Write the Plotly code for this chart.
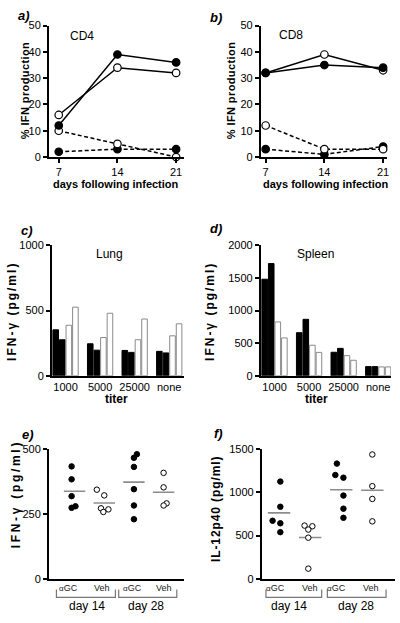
import numpy as np
import plotly.graph_objects as go

W, H = 400, 623

# ---------------- data ----------------
days = [7, 14, 21]
cd4_solid_filled = [12, 39, 36]
cd4_solid_open = [16, 34, 32]
cd4_dash_open = [10, 5, 0]
cd4_dash_filled = [2, 3, 3]
cd8_solid_filled = [32, 35, 34]
cd8_solid_open = [32, 39, 33]
cd8_dash_open = [12, 3, 3]
cd8_dash_filled = [3, 1, 4]

titers = ["1000", "5000", "25000", "none"]
lung_black1 = [352, 245, 194, 187]
lung_black2 = [276, 196, 179, 175]
lung_white1 = [387, 293, 276, 306]
lung_white2 = [526, 479, 435, 398]
spleen_black1 = [1480, 660, 360, 140]
spleen_black2 = [1720, 865, 420, 140]
spleen_white1 = [825, 468, 308, 135]
spleen_white2 = [580, 358, 237, 135]

groups = ["αGC", "Veh", "αGC", "Veh"]
days_groups = ["day 14", "day 28"]
e_vals = [
    [434, 384, 319, 280, 274],
    [344, 322, 272, 268, 258],
    [481, 467, 432, 346, 283, 230],
    [409, 353, 291, 283],
]
e_jitter = [
    [-0.1, -0.1, -0.1, 0.03, -0.1],
    [-0.25, 0.0, -0.11, 0.14, -0.03],
    [0.1, 0.0, 0.0, 0.0, 0.0, 0.0],
    [0.0, 0.0, 0.1, 0.0],
]
f_vals = [
    [1126, 834, 672, 643, 540],
    [616, 608, 570, 476, 117],
    [1334, 1202, 1171, 964, 812, 706],
    [1440, 1073, 925, 665],
]
f_jitter = [
    [0.04, 0.04, -0.21, 0.04, 0.04],
    [-0.18, 0.07, -0.06, -0.06, -0.06],
    [-0.14, -0.19, 0.07, 0.07, 0.07, 0.07],
    [0.0, 0.0, 0.0, 0.0],
]
filled_group = [True, False, True, False]

FONT = "Arial, Liberation Sans, sans-serif"


def px(x):
    return x / W


def py(y):
    return 1 - y / H


fig = go.Figure()

axis_common = dict(
    showline=True, linecolor="black", linewidth=1.5, showgrid=False,
    zeroline=False, ticks="outside", ticklen=4, tickwidth=1.5,
    tickcolor="black", tickfont=dict(family=FONT, size=11, color="black"),
)

# domains (pixel boxes)
boxes = {
    1: (49, 185, 20, 154),
    2: (262, 389, 20, 154),
    3: (52, 185, 244, 377),
    4: (262, 393, 244, 377),
    5: (49, 185, 452, 584),
    6: (263, 397, 452, 584),
}

layout = dict(
    width=W, height=H, margin=dict(l=0, r=0, t=0, b=0),
    paper_bgcolor="white", plot_bgcolor="white", showlegend=False,
    barmode="group", bargap=0.24, bargroupgap=0.15,
    font=dict(family=FONT, color="black"),
)
for i, (x0, x1, y0, y1) in boxes.items():
    xa = "xaxis" if i == 1 else f"xaxis{i}"
    ya = "yaxis" if i == 1 else f"yaxis{i}"
    layout[xa] = dict(axis_common, domain=[px(x0), px(x1)],
                      anchor="y" if i == 1 else f"y{i}")
    layout[ya] = dict(axis_common, domain=[py(y1), py(y0)],
                      anchor="x" if i == 1 else f"x{i}")

# ---- panels a, b ----
layout["xaxis"].update(range=[5.81, 21.95], tickvals=days)
layout["yaxis"].update(range=[0, 50], tickvals=[0, 10, 20, 30, 40, 50])
layout["xaxis2"].update(range=[6.41, 21.47], tickvals=days)
layout["yaxis2"].update(range=[0, 50], tickvals=[0, 10, 20, 30, 40, 50])


def line_trace(y, filled, dash, xa, ya):
    return go.Scatter(
        x=days, y=y, mode="lines+markers", xaxis=xa, yaxis=ya,
        line=dict(color="black", width=1.5, dash="4px,2.5px" if dash else "solid"),
        marker=dict(size=7.5, symbol="circle",
                    color="black" if filled else "white",
                    line=dict(color="black", width=1.2)),
        cliponaxis=False,
    )


for xa, ya, sets in [
    ("x", "y", [(cd4_dash_filled, True, True), (cd4_dash_open, False, True),
                (cd4_solid_open, False, False), (cd4_solid_filled, True, False)]),
    ("x2", "y2", [(cd8_dash_filled, True, True), (cd8_dash_open, False, True),
                  (cd8_solid_open, False, False), (cd8_solid_filled, True, False)]),
]:
    for y, filled, dash in sets:
        fig.add_trace(line_trace(y, filled, dash, xa, ya))

# ---- panels c, d ----
cat_x = list(range(len(titers)))
layout["xaxis3"].update(range=[-0.40, 3.43], tickvals=cat_x, ticktext=titers,
                        ticks="", ticklen=0)
layout["yaxis3"].update(range=[0, 1000], tickvals=[0, 500, 1000])
layout["xaxis4"].update(range=[-0.40, 3.37], tickvals=cat_x, ticktext=titers,
                        ticks="", ticklen=0)
layout["yaxis4"].update(range=[0, 2000], tickvals=[0, 500, 1000, 1500, 2000])

for xa, ya, series in [
    ("x3", "y3", [lung_black1, lung_black2, lung_white1, lung_white2]),
    ("x4", "y4", [spleen_black1, spleen_black2, spleen_white1, spleen_white2]),
]:
    for k, vals in enumerate(series):
        black = k < 2
        fig.add_trace(go.Bar(
            x=cat_x, y=vals, xaxis=xa, yaxis=ya, offsetgroup=str(k),
            marker=dict(color="black" if black else "white",
                        line=dict(color="black" if black else "#8a8a8a", width=1)),
        ))

# ---- panels e, f ----
layout["xaxis5"].update(range=[-0.87, 3.69], showticklabels=False, ticks="")
layout["yaxis5"].update(range=[0, 500], tickvals=[0, 250, 500])
layout["xaxis6"].update(range=[-0.56, 3.73], showticklabels=False, ticks="")
layout["yaxis6"].update(range=[0, 1500], tickvals=[0, 500, 1000, 1500])

for xa, ya, vals_list, jit_list in [("x5", "y5", e_vals, e_jitter),
                                    ("x6", "y6", f_vals, f_jitter)]:
    for g, (vals, jit) in enumerate(zip(vals_list, jit_list)):
        m = float(np.mean(vals))
        fig.add_trace(go.Scatter(
            x=[g - 0.36, g + 0.36], y=[m, m], mode="lines", xaxis=xa, yaxis=ya,
            line=dict(color="#8c8c8c", width=1.6),
        ))
        fig.add_trace(go.Scatter(
            x=[g + j for j in jit], y=vals, mode="markers", xaxis=xa, yaxis=ya,
            marker=dict(size=5.5, color="black" if filled_group[g] else "white",
                        line=dict(color="black", width=1)),
            cliponaxis=False,
        ))

# ---- annotations ----
ann = []


def text(x, y, s, size=11, bold=False, italic=False, angle=0, color="black",
         spacing=None):
    if spacing is not None:
        s = f"<span style='letter-spacing:{spacing}px'>{s}</span>"
    if bold:
        s = f"<b>{s}</b>"
    if italic:
        s = f"<i>{s}</i>"
    ann.append(dict(x=px(x), y=py(y), xref="paper", yref="paper", text=s,
                    showarrow=False, textangle=angle, xanchor="center",
                    yanchor="middle",
                    font=dict(family=FONT, size=size, color=color)))


# panel labels
for lab, x, y in [("a)", 24, 10), ("b)", 217, 12), ("c)", 27, 229),
                  ("d)", 217, 227), ("e)", 28, 437), ("f)", 220, 436)]:
    text(x, y, lab, size=13, bold=True, italic=True)

# inner titles
text(82, 31, "CD4", size=12)
text(292, 30, "CD8", size=12)
text(110, 253, "Lung", size=12)
text(317, 253, "Spleen", size=12)

# axis titles
text(25, 86, "% IFN production", size=11, bold=True, angle=-90, spacing=0.4)
text(233, 86, "% IFN production", size=11, bold=True, angle=-90, spacing=0.4)
text(117, 182, "days following infection", size=11, bold=True)
text(328, 182, "days following infection", size=11, bold=True)
text(12, 311, "IFN-γ (pg/ml)", size=12, bold=True, angle=-90, spacing=2.0)
text(211, 311, "IFN-γ (pg/ml)", size=12, bold=True, angle=-90, spacing=2.0)
text(117, 401, "titer", size=12, bold=True)
text(318, 401, "titer", size=12, bold=True)
text(16, 498, "IFN-γ (pg/ml)", size=12, bold=True, angle=-90, spacing=2.7)
text(217, 513, "IL-12p40 (pg/ml)", size=12, bold=True, angle=-90, spacing=0.9)

# group labels and brackets
shapes = []
for labels_x, day_x, brackets in [
    ([69, 103, 133, 165], [87, 147], [(56.7, 116), (119.3, 177.7)]),
    ([277, 312, 338, 373], [290, 358], [(267.3, 323.3), (329, 388)]),
]:
    for lx, g in zip(labels_x, groups):
        s = g.replace("α", "<span style='font-size:8px'>α</span>")
        text(lx, 593, s, size=9, color="#222")
    for dx, d in zip(day_x, days_groups):
        text(dx, 612, d, size=12)
    for (bx0, bx1) in brackets:
        shapes.append(dict(
            type="path", xref="paper", yref="paper",
            path=f"M {px(bx0)} {py(595)} L {px(bx0)} {py(603)} "
                 f"L {px(bx1)} {py(603)} L {px(bx1)} {py(595)}",
            line=dict(color="#777", width=1.2),
        ))

layout["annotations"] = ann
layout["shapes"] = shapes
fig.update_layout(**layout)

fig.write_html(
    "out.html",
    config={"displayModeBar": False},
    post_script="document.body.style.margin='0';document.body.style.overflow='hidden';",
)
